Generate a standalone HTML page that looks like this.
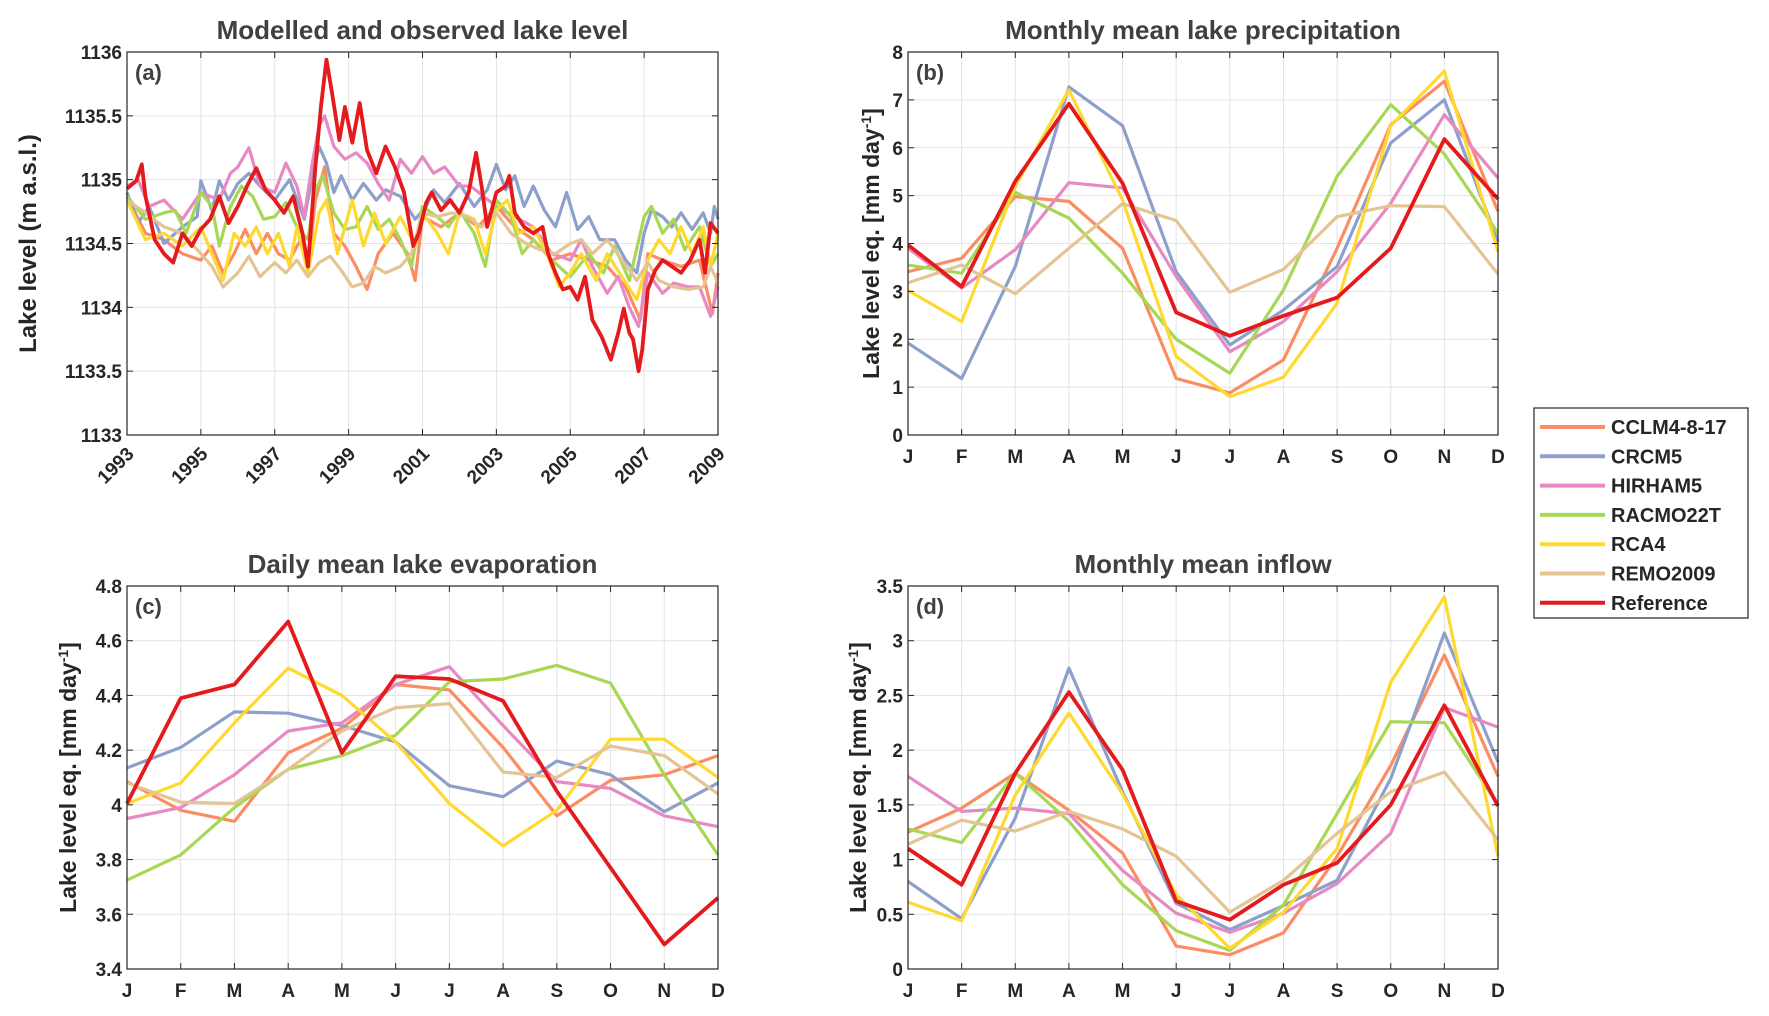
<!DOCTYPE html>
<html><head><meta charset="utf-8">
<style>
html,body{margin:0;padding:0;background:#fff;}
svg{display:block;}
.tick{font-family:"Liberation Sans Narrow","Liberation Sans",sans-serif;font-weight:bold;font-size:19px;fill:#262626;}
.title{font-family:"Liberation Sans Narrow","Liberation Sans",sans-serif;font-weight:bold;font-size:26px;fill:#404040;}
.ylab{font-family:"Liberation Sans",sans-serif;font-weight:bold;font-size:23px;fill:#262626;}
.leg{font-family:"Liberation Sans Narrow","Liberation Sans",sans-serif;font-weight:bold;font-size:20px;fill:#262626;}
</style></head>
<body>
<svg id="fig" width="1769" height="1016" viewBox="0 0 1769 1016" xmlns="http://www.w3.org/2000/svg"></svg>
<script>
const seriesNames = ["CCLM4-8-17","CRCM5","HIRHAM5","RACMO22T","RCA4","REMO2009","Reference"];
const months = ["J","F","M","A","M","J","J","A","S","O","N","D"];

// Panel (b) precipitation
const precipCCLM = [3.41,3.69,4.98,4.88,3.9,1.18,0.88,1.57,3.9,6.48,7.39,4.67];
const precipCRCM = [1.92,1.18,3.52,7.27,6.46,3.41,1.88,2.61,3.52,6.1,7.0,4.04];
const precipHIRHAM = [3.9,3.07,3.87,5.27,5.16,3.31,1.74,2.37,3.41,4.84,6.69,5.37];
const precipRACMO = [3.55,3.38,5.07,4.53,3.38,2.0,1.29,3.03,5.4,6.9,5.87,4.22];
const precipRCA4 = [3.02,2.37,5.19,7.21,4.91,1.64,0.8,1.21,2.75,6.46,7.6,3.83];
const precipREMO = [3.18,3.55,2.95,3.9,4.83,4.48,2.98,3.46,4.56,4.79,4.77,3.36];
const precipRef = [3.97,3.1,5.3,6.92,5.26,2.56,2.07,2.49,2.87,3.9,6.18,4.93];
const precipTicks = [0,1,2,3,4,5,6,7,8];

// Panel (c) evaporation
const evapCCLM = [4.085,3.98,3.94,4.19,4.28,4.44,4.42,4.21,3.96,4.09,4.11,4.18];
const evapCRCM = [4.135,4.21,4.34,4.335,4.29,4.23,4.07,4.03,4.16,4.11,3.975,4.08];
const evapHIRHAM = [3.95,3.99,4.11,4.27,4.3,4.44,4.505,4.29,4.085,4.06,3.96,3.92];
const evapRACMO = [3.725,3.817,3.99,4.13,4.18,4.255,4.45,4.46,4.51,4.445,4.11,3.817];
const evapRCA4 = [4.005,4.08,4.3,4.5,4.4,4.23,4.005,3.85,3.98,4.24,4.24,4.1];
const evapREMO = [4.08,4.01,4.005,4.13,4.27,4.355,4.37,4.12,4.1,4.215,4.18,4.04];
const evapRef = [4.005,4.39,4.44,4.67,4.19,4.47,4.46,4.38,4.05,3.77,3.49,3.66];
const evapTicks = [3.4,3.6,3.8,4,4.2,4.4,4.6,4.8];

// Panel (d) inflow
const inflowCCLM = [1.25,1.47,1.79,1.45,1.06,0.21,0.13,0.33,1.03,1.86,2.87,1.76];
const inflowCRCM = [0.8,0.46,1.38,2.75,1.62,0.6,0.36,0.58,0.81,1.74,3.07,1.89];
const inflowHIRHAM = [1.76,1.44,1.47,1.42,0.9,0.51,0.335,0.51,0.78,1.24,2.39,2.21];
const inflowRACMO = [1.28,1.155,1.79,1.35,0.77,0.35,0.17,0.585,1.42,2.26,2.25,1.5];
const inflowRCA4 = [0.61,0.44,1.59,2.34,1.6,0.68,0.19,0.52,1.1,2.62,3.4,1.03];
const inflowREMO = [1.14,1.36,1.26,1.44,1.28,1.03,0.52,0.81,1.24,1.62,1.8,1.18];
const inflowRef = [1.1,0.77,1.79,2.53,1.82,0.62,0.45,0.77,0.97,1.5,2.41,1.49];
const inflowTicks = [0,0.5,1,1.5,2,2.5,3,3.5];

// Panel (a) lake level [year, m a.s.l.]
const levelCCLM = [[1993,1134.87],[1993.5,1134.58],[1994,1134.53],[1994.5,1134.42],[1995,1134.37],[1995.3,1134.48],[1995.6,1134.27],[1995.9,1134.42],[1996.2,1134.61],[1996.5,1134.42],[1996.8,1134.58],[1997.1,1134.42],[1997.4,1134.37],[1997.7,1134.53],[1997.9,1134.32],[1998.1,1134.84],[1998.35,1135.1],[1998.6,1134.58],[1998.9,1134.48],[1999.2,1134.32],[1999.5,1134.14],[1999.8,1134.42],[2000.2,1134.58],[2000.6,1134.42],[2000.8,1134.21],[2001,1134.71],[2001.5,1134.63],[2002,1134.74],[2002.5,1134.63],[2003,1134.79],[2003.5,1134.63],[2004,1134.53],[2004.5,1134.37],[2005,1134.42],[2005.5,1134.37],[2006,1134.32],[2006.5,1134.16],[2006.9,1133.9],[2007.1,1134.42],[2007.5,1134.37],[2008,1134.32],[2008.5,1134.37],[2008.85,1133.95],[2009,1134.27]];
const levelCRCM = [[1993,1134.9],[1993.3,1134.66],[1993.6,1134.79],[1994,1134.5],[1994.5,1134.63],[1994.9,1134.71],[1995,1134.99],[1995.3,1134.76],[1995.5,1134.99],[1995.75,1134.84],[1996,1134.97],[1996.3,1135.05],[1996.6,1134.95],[1997,1134.84],[1997.4,1135.0],[1997.8,1134.69],[1998,1135.0],[1998.2,1135.26],[1998.4,1135.13],[1998.6,1134.9],[1998.8,1135.03],[1999.1,1134.84],[1999.4,1134.97],[1999.75,1134.84],[2000,1134.92],[2000.4,1134.87],[2000.8,1134.69],[2001.1,1134.79],[2001.3,1134.92],[2001.6,1134.82],[2002,1134.97],[2002.4,1134.79],[2002.75,1134.92],[2003,1135.12],[2003.25,1134.92],[2003.5,1135.03],[2003.75,1134.79],[2004,1134.95],[2004.3,1134.76],[2004.6,1134.63],[2004.9,1134.9],[2005.2,1134.61],[2005.5,1134.71],[2005.8,1134.53],[2006.2,1134.53],[2006.5,1134.37],[2006.8,1134.27],[2007,1134.58],[2007.2,1134.76],[2007.5,1134.71],[2007.75,1134.63],[2008,1134.74],[2008.3,1134.61],[2008.6,1134.74],[2008.8,1134.58],[2008.9,1134.79],[2009,1134.69]];
const levelHIRHAM = [[1993,1134.95],[1993.3,1135.0],[1993.6,1134.79],[1994,1134.84],[1994.5,1134.69],[1995,1134.9],[1995.5,1134.84],[1995.8,1135.05],[1996,1135.1],[1996.3,1135.25],[1996.6,1134.95],[1997,1134.9],[1997.3,1135.13],[1997.6,1134.95],[1997.8,1134.71],[1998,1135.1],[1998.2,1135.42],[1998.35,1135.5],[1998.6,1135.26],[1998.9,1135.16],[1999.2,1135.21],[1999.5,1135.13],[1999.8,1134.97],[2000.1,1134.84],[2000.4,1135.16],[2000.7,1135.05],[2001,1135.18],[2001.3,1135.05],[2001.6,1135.1],[2002,1134.95],[2002.3,1134.95],[2003,1134.79],[2004,1134.63],[2004.5,1134.42],[2005,1134.37],[2005.3,1134.53],[2005.6,1134.32],[2006,1134.11],[2006.3,1134.24],[2006.6,1134.0],[2006.85,1133.85],[2007.1,1134.27],[2007.5,1134.11],[2007.8,1134.19],[2008.2,1134.16],[2008.5,1134.16],[2008.8,1133.93],[2009,1134.16]];
const levelRACMO = [[1993,1134.87],[1993.5,1134.69],[1994,1134.74],[1994.3,1134.76],[1994.6,1134.58],[1995,1134.9],[1995.3,1134.79],[1995.5,1134.48],[1995.8,1134.79],[1996.1,1134.95],[1996.4,1134.87],[1996.7,1134.69],[1997,1134.71],[1997.3,1134.82],[1997.6,1134.63],[1997.9,1134.53],[1998.1,1134.92],[1998.3,1135.03],[1998.6,1134.74],[1998.9,1134.61],[1999.2,1134.63],[1999.5,1134.79],[1999.8,1134.61],[2000.1,1134.69],[2000.4,1134.53],[2000.7,1134.32],[2001,1134.79],[2001.4,1134.71],[2001.7,1134.63],[2002,1134.76],[2002.4,1134.58],[2002.7,1134.32],[2003,1134.84],[2003.4,1134.71],[2003.7,1134.42],[2004,1134.53],[2004.5,1134.37],[2005,1134.24],[2005.5,1134.42],[2005.9,1134.27],[2006.2,1134.48],[2006.6,1134.21],[2007,1134.71],[2007.2,1134.79],[2007.5,1134.58],[2007.8,1134.69],[2008.1,1134.45],[2008.5,1134.63],[2008.8,1134.32],[2009,1134.42]];
const levelRCA4 = [[1993,1134.84],[1993.5,1134.53],[1994,1134.58],[1994.5,1134.48],[1995,1134.63],[1995.3,1134.42],[1995.6,1134.21],[1995.9,1134.58],[1996.2,1134.48],[1996.5,1134.63],[1996.8,1134.42],[1997.1,1134.58],[1997.4,1134.32],[1997.6,1134.63],[1997.9,1134.27],[1998.2,1134.74],[1998.4,1134.84],[1998.7,1134.42],[1999.1,1134.84],[1999.4,1134.48],[1999.7,1134.74],[2000,1134.5],[2000.4,1134.71],[2000.8,1134.48],[2001,1134.74],[2001.4,1134.58],[2001.7,1134.42],[2002,1134.74],[2002.4,1134.69],[2002.7,1134.42],[2003,1134.76],[2003.3,1134.84],[2003.6,1134.58],[2004,1134.63],[2004.4,1134.4],[2004.7,1134.16],[2005,1134.27],[2005.3,1134.42],[2005.7,1134.21],[2006,1134.42],[2006.4,1134.24],[2006.8,1134.06],[2007.1,1134.37],[2007.4,1134.53],[2007.7,1134.42],[2008,1134.63],[2008.3,1134.42],[2008.6,1134.63],[2008.8,1134.32],[2009,1134.58]];
const levelREMO = [[1993,1134.84],[1993.5,1134.74],[1994,1134.63],[1994.5,1134.58],[1995,1134.42],[1995.3,1134.32],[1995.6,1134.16],[1996,1134.27],[1996.3,1134.4],[1996.6,1134.24],[1997,1134.35],[1997.3,1134.27],[1997.6,1134.37],[1997.9,1134.24],[1998.2,1134.35],[1998.5,1134.4],[1998.8,1134.29],[1999.1,1134.16],[1999.4,1134.19],[1999.7,1134.32],[2000,1134.27],[2000.4,1134.32],[2000.7,1134.42],[2001,1134.74],[2001.4,1134.71],[2001.8,1134.74],[2002.2,1134.71],[2002.6,1134.63],[2003,1134.74],[2003.4,1134.58],[2003.8,1134.5],[2004.2,1134.45],[2004.6,1134.42],[2005,1134.5],[2005.3,1134.53],[2005.6,1134.42],[2006,1134.53],[2006.4,1134.37],[2006.8,1134.21],[2007.1,1134.35],[2007.4,1134.21],[2007.8,1134.16],[2008.2,1134.14],[2008.6,1134.16],[2008.8,1134.32],[2009,1134.19]];
const levelRef = [[1993,1134.93],[1993.25,1134.99],[1993.4,1135.12],[1993.5,1134.87],[1993.75,1134.53],[1994,1134.42],[1994.25,1134.35],[1994.5,1134.58],[1994.75,1134.48],[1995,1134.61],[1995.25,1134.69],[1995.5,1134.87],[1995.75,1134.66],[1996,1134.79],[1996.25,1134.95],[1996.5,1135.09],[1996.75,1134.92],[1997,1134.84],[1997.25,1134.74],[1997.5,1134.87],[1997.75,1134.58],[1997.9,1134.32],[1998.1,1135.1],[1998.25,1135.57],[1998.4,1135.94],[1998.55,1135.68],[1998.75,1135.31],[1998.9,1135.57],[1999.1,1135.29],[1999.3,1135.6],[1999.5,1135.23],[1999.75,1135.05],[2000,1135.26],[2000.25,1135.1],[2000.5,1134.9],[2000.75,1134.48],[2000.9,1134.58],[2001.1,1134.82],[2001.25,1134.9],[2001.5,1134.76],[2001.75,1134.84],[2002,1134.74],[2002.25,1134.9],[2002.45,1135.21],[2002.6,1134.95],[2002.75,1134.63],[2003,1134.9],[2003.25,1134.95],[2003.35,1135.03],[2003.5,1134.74],[2003.75,1134.63],[2004,1134.58],[2004.25,1134.63],[2004.4,1134.42],[2004.6,1134.27],[2004.8,1134.14],[2005,1134.16],[2005.2,1134.06],[2005.4,1134.24],[2005.6,1133.9],[2005.85,1133.77],[2006.1,1133.59],[2006.3,1133.8],[2006.45,1133.99],[2006.6,1133.8],[2006.7,1133.75],[2006.85,1133.5],[2006.95,1133.67],[2007.1,1134.14],[2007.3,1134.29],[2007.5,1134.37],[2007.75,1134.32],[2008,1134.27],[2008.25,1134.37],[2008.5,1134.53],[2008.65,1134.27],[2008.8,1134.66],[2009,1134.58]];
const levelTicks = [1133,1133.5,1134,1134.5,1135,1135.5,1136];
const yearTicks = [1993,1995,1997,1999,2001,2003,2005,2007,2009];

const colors = ["#fc8d62","#8da0cb","#e78ac3","#a6d854","#ffd92f","#e5c494","#e41a1c"];
const NS = "http://www.w3.org/2000/svg";
const svg = document.getElementById("fig");

function mk(tag, attrs, parent){
  const e = document.createElementNS(NS, tag);
  for (const k in attrs) e.setAttribute(k, attrs[k]);
  (parent||svg).appendChild(e);
  return e;
}

function panel(opt){
  const g = mk("g", {});
  
  
  const L=opt.L,R=opt.R,T=opt.T,B=opt.B;
  const sx = v => L + (v-opt.xmin)/(opt.xmax-opt.xmin)*(R-L);
  const sy = v => B - (v-opt.ymin)/(opt.ymax-opt.ymin)*(B-T);
  opt.xt.forEach(v=>{ const ln = mk("line",{x1:sx(v),x2:sx(v),y1:T,y2:B,stroke:"#e3e3e3","stroke-width":1},g);
      });
  opt.yt.forEach(v=>{ const ln = mk("line",{x1:L,x2:R,y1:sy(v),y2:sy(v),stroke:"#e3e3e3","stroke-width":1},g);
      });
  opt.series.forEach((s,i)=>{
    const pts = s.map((p,j)=> Array.isArray(p) ? sx(p[0])+","+sy(p[1]) : sx(j+1)+","+sy(p)).join(" ");
    const pl = mk("polyline",{points:pts,fill:"none",stroke:colors[i],"stroke-width":i===6?3.8:3.2,"stroke-linejoin":"round"},g);
    
    
  });
  const bx = mk("rect",{x:L,y:T,width:R-L,height:B-T,fill:"none",stroke:"#262626","stroke-width":1.2},g);
   
  opt.xt.forEach(v=>{ mk("line",{x1:sx(v),x2:sx(v),y1:B,y2:B-6,stroke:"#262626"},g); mk("line",{x1:sx(v),x2:sx(v),y1:T,y2:T+6,stroke:"#262626"},g); });
  opt.yt.forEach(v=>{ mk("line",{x1:L,x2:L+6,y1:sy(v),y2:sy(v),stroke:"#262626"},g); mk("line",{x1:R,x2:R-6,y1:sy(v),y2:sy(v),stroke:"#262626"},g); });
  opt.yt.forEach(v=>{
    const t = mk("text",{x:L-5,y:sy(v)+7,"text-anchor":"end",class:"tick"},g);
    t.textContent = String(v);
     
  });
  opt.xt.forEach((v,j)=>{
    let t;
    if (opt.rot){
      t = mk("text",{x:sx(v)+8,y:B+20,"text-anchor":"end",class:"tick",transform:"rotate(-45 "+(sx(v)+8)+" "+(B+20)+")"},g);
    } else {
      t = mk("text",{x:sx(v),y:B+28,"text-anchor":"middle",class:"tick"},g);
    }
    t.textContent = opt.xl[j];
     
  });
  const tt = mk("text",{x:(L+R)/2,y:T-13,"text-anchor":"middle",class:"title"},g);
  tt.textContent = opt.title;
   
  const pl = mk("text",{x:L+8,y:T+28,class:"title"},g);
  pl.setAttribute("style","font-size:22px");
  pl.textContent = opt.letter;
   
  const cy=(T+B)/2;
  const yl = mk("text",{x:opt.ylx,y:cy,"text-anchor":"middle",class:"ylab",transform:"rotate(-90 "+opt.ylx+" "+cy+")"},g);
  if (opt.ylab){ yl.textContent = opt.ylab; yl.setAttribute("style","font-size:24px"); }
  else {
    yl.appendChild(document.createTextNode("Lake level eq. [mm day"));
    const sp = mk("tspan",{dy:-8,"font-size":"14"},yl); sp.textContent="-1";
    const sp2 = mk("tspan",{dy:8},yl); sp2.textContent="]";
  }
   
}

const mIdx = months.map((m,i)=>i+1);

panel({name:"panel-a-lake-level",L:127,R:718,T:52,B:435,xmin:1993,xmax:2009,ymin:1133,ymax:1136,
  xt:yearTicks,xl:yearTicks.map(String),yt:levelTicks,rot:true,title:"Modelled and observed lake level",letter:"(a)",
  ylx:36,ylab:"Lake level (m a.s.l.)",
  series:[levelCCLM,levelCRCM,levelHIRHAM,levelRACMO,levelRCA4,levelREMO,levelRef]});
panel({name:"panel-b-precipitation",L:908,R:1498,T:52,B:435,xmin:1,xmax:12,ymin:0,ymax:8,
  xt:mIdx,xl:months,yt:precipTicks,title:"Monthly mean lake precipitation",letter:"(b)",ylx:879,
  series:[precipCCLM,precipCRCM,precipHIRHAM,precipRACMO,precipRCA4,precipREMO,precipRef]});
panel({name:"panel-c-evaporation",L:127,R:718,T:586,B:969,xmin:1,xmax:12,ymin:3.4,ymax:4.8,
  xt:mIdx,xl:months,yt:evapTicks,title:"Daily mean lake evaporation",letter:"(c)",ylx:76,
  series:[evapCCLM,evapCRCM,evapHIRHAM,evapRACMO,evapRCA4,evapREMO,evapRef]});
panel({name:"panel-d-inflow",L:908,R:1498,T:586,B:969,xmin:1,xmax:12,ymin:0,ymax:3.5,
  xt:mIdx,xl:months,yt:inflowTicks,title:"Monthly mean inflow",letter:"(d)",ylx:866,
  series:[inflowCCLM,inflowCRCM,inflowHIRHAM,inflowRACMO,inflowRCA4,inflowREMO,inflowRef]});

const lg = mk("g",{});


mk("rect",{x:1534,y:408,width:214,height:210,fill:"#fff",stroke:"#262626","stroke-width":1.2},lg);
seriesNames.forEach((n,i)=>{
  const y = 427 + i*29.3;
  const e = mk("g",{},lg);
  
  
  mk("line",{x1:1540,x2:1605,y1:y,y2:y,stroke:colors[i],"stroke-width":4},e);
  const t = mk("text",{x:1611,y:y+7,class:"leg"},e);
  t.textContent = n;
});
</script>
</body></html>
